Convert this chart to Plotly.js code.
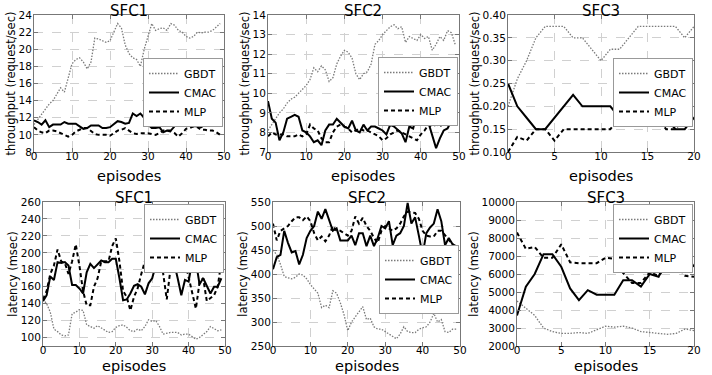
<!DOCTYPE html>
<html><head><meta charset="utf-8">
<script src="https://cdn.plot.ly/plotly-3.0.1.min.js"></script>
<style>html,body{margin:0;padding:0;background:#fff}#c{width:712px;height:375px}</style>
</head><body><div id="c"></div>
<script>
const ep50 = Array.from({length:50},(_,i)=>i);
const ep21 = Array.from({length:21},(_,i)=>i);
const seriesNames = ['GBDT','CMAC','MLP'];
const panelTitles = ['SFC1','SFC2','SFC3','SFC1','SFC2','SFC3'];
const xTitle = 'episodes';

// throughput SFC1
const thr1_gbdt = [11.2,11.8,12.5,13,13.6,14,14.8,15.5,15,16.5,18.3,18.8,19,18.5,17.7,18.5,21.3,21.2,21,20.8,21,22,23,22.5,20.5,19.5,19,18.8,18,20,21.5,23,22.2,22.4,22.5,22.2,23,22.8,22.2,22,21.5,21.3,21.5,22,21.9,22,22,22.2,22.6,23];
const thr1_cmac = [11.7,11.5,11.2,11.7,10.9,11.2,11.2,11.2,11.5,11.3,11.3,11.3,11,10.7,10.8,11.1,11.1,11.1,10.8,10.8,10.9,11.2,11.6,11.5,11.3,11.4,12.5,12.2,12.5,12,11.2,10.8,10.8,10.9,10.3,10.5,10.5,11,12,11.6,11.6,11.4,11,11,10.9,11.2,11.5,11.7,11.6,11.6];
const thr1_mlp = [10.9,10.5,10.3,10.2,10.5,10.5,10.4,10.2,10,9.8,10,10.4,10.6,10.8,10.8,10.5,10.1,10,10,10,9.9,10.2,10.5,10.6,10.8,10.5,10.2,10.1,10.2,10.2,10.2,10.1,10,10.2,10.5,10.5,10.4,10.2,9.8,10.2,10.7,10.8,11,10.9,10.6,10.6,10.5,10.5,10.3,10];
// throughput SFC2
const thr2_gbdt = [8.1,8.4,8.7,9,9.2,9.5,9.7,9.8,10,10.2,10.4,10.7,11.3,11.1,11.4,11.2,10.6,10.8,11.5,11.9,12.2,12.1,11.8,11,10.7,11,11.1,11.5,12.5,12.7,13,13.2,13.4,13.5,13.3,13.4,12.6,12.9,12.8,12.7,13,12.8,12.9,12.2,12.5,12.9,12.7,13.2,13.1,12.5];
const thr2_cmac = [9.6,8.7,8.5,7.6,8,8.7,8.8,8.9,8.8,8.1,8,7.8,7.5,7.6,7.35,8.1,8.4,8.4,8.7,8.5,8.3,8.2,8.6,8.1,8,8.4,8.1,8.3,8.3,8.2,8.1,7.9,8.4,8.3,8.1,7.95,7.5,8.3,8.2,9,9.5,8.5,8.5,7.9,7.2,7.7,8.1,8.2,8.6,8.7];
const thr2_mlp = [7.8,8,7.9,7.9,7.9,7.8,7.8,7.8,7.9,7.8,7.9,8.4,8.2,8.1,7.7,7.5,7.5,8,8.3,8.4,8.3,8.2,8,8.1,8.2,8.1,8.1,8,7.9,7.8,7.6,7.7,7.9,8,8.1,8,7.9,7.8,7.7,7.6,7.9,8.1,8.4,8.3,8.4,8.3,8.5,8.7,8.7,8.7];
// throughput SFC3
const thr3_gbdt = [0.2,0.26,0.3,0.35,0.375,0.375,0.375,0.35,0.35,0.325,0.3,0.325,0.325,0.35,0.375,0.375,0.375,0.375,0.375,0.35,0.375];
const thr3_cmac = [0.25,0.2,0.175,0.15,0.15,0.175,0.2,0.225,0.2,0.2,0.2,0.2,0.175,0.175,0.225,0.2,0.2,0.175,0.15,0.15,0.175];
const thr3_mlp = [0.1,0.133,0.125,0.15,0.15,0.125,0.15,0.15,0.15,0.15,0.15,0.15,0.175,0.2,0.2,0.175,0.175,0.15,0.15,0.175,0.175];
// latency SFC1
const lat1_gbdt = [145,140,130,110,107,103,102,103,128,130,133,132,115,113,111,114,111,108,106,107,112,114,115,112,108,107,110,108,113,121,119,120,113,104,105,106,106,106,103,104,104,101,98,100,104,107,113,110,108,109];
const lat1_cmac = [143,150,172,168,189,188,189,185,162,162,158,152,177,187,182,187,191,189,189,193,193,170,144,145,152,161,163,160,151,164,170,186,186,187,208,207,190,170,150,168,166,190,190,163,170,160,152,160,160,170];
const lat1_mlp = [145,155,175,185,204,190,188,175,190,210,185,155,138,138,160,170,190,190,190,208,217,190,155,148,132,148,158,175,190,193,200,193,192,176,145,180,190,192,226,190,170,150,134,165,170,143,147,150,160,190];
// latency SFC2
const lat2_gbdt = [450,440,420,395,392,390,393,400,398,390,378,370,360,330,335,330,365,360,340,315,282,300,310,320,332,305,308,290,285,285,280,275,270,265,275,290,280,278,278,285,288,290,300,318,300,305,280,278,285,285];
const lat2_cmac = [410,435,440,490,465,445,448,420,440,475,490,500,530,515,535,510,490,495,470,470,470,480,460,485,485,458,480,458,475,500,495,510,460,480,485,500,548,505,518,480,440,485,497,505,535,510,460,475,462,435];
const lat2_mlp = [505,470,490,495,500,510,518,518,512,520,510,485,470,478,468,480,500,490,490,485,480,490,520,505,517,500,490,475,465,490,500,495,490,495,505,520,530,528,527,515,490,480,478,478,490,490,480,470,462,458];
// latency SFC3
const lat3_gbdt = [4500,4100,3700,3000,2800,2700,2700,2750,2700,2900,3100,3050,3100,3000,2800,2750,2700,2650,2700,2950,2850];
const lat3_cmac = [3700,5300,6000,7100,7100,6400,5200,4550,5100,4850,4850,4850,5650,5650,5300,6000,5850,6900,7100,7100,6400];
const lat3_mlp = [8300,7400,7500,6900,6900,7650,6650,6600,6600,6600,6900,6850,6050,5500,5500,6100,5900,6500,6500,5900,5850];

const panels = [
  {x:ep50, ys:[thr1_gbdt,thr1_cmac,thr1_mlp]},
  {x:ep50, ys:[thr2_gbdt,thr2_cmac,thr2_mlp]},
  {x:ep21, ys:[thr3_gbdt,thr3_cmac,thr3_mlp]},
  {x:ep50, ys:[lat1_gbdt,lat1_cmac,lat1_mlp]},
  {x:ep50, ys:[lat2_gbdt,lat2_cmac,lat2_mlp]},
  {x:ep21, ys:[lat3_gbdt,lat3_cmac,lat3_mlp]}
];
const styles = [
  {color:'#7a7a7a', width:1.3, dash:'1.5px,1.5px'},
  {color:'#000', width:2, dash:'solid'},
  {color:'#000', width:2, dash:'4px,3px'}
];
const W=712,H=375;
const boxes = [ // [left,right,top,bottom] px
  [34,224,15,152],[268,459,15,152],[508,694,15,152],
  [43,225,202,346],[273,460,202,346],[517,694,202,346]
];
const yRanges = [[8,24],[7,14],[0.1,0.4],[90,260],[250,550],[2000,10000]];
const yDticks = [2,1,0.05,20,50,1000];
const xRanges = [[0,50],[0,50],[0,20],[0,50],[0,50],[0,20]];
const xDticks = [10,10,5,10,10,5];
const yTitles = ['throughput (request/sec)','throughput (request/sec)','throughput (request/sec)','latency (msec)','latency (msec)','latency (msec)'];
const legendPos = [[223,58],[458,57],[693,58],[224,204],[459,245],[693,204]];

const font = 'DejaVu Sans, sans-serif';
const traces=[]; const layout={width:W,height:H,margin:{l:0,r:0,t:0,b:0},paper_bgcolor:'#fff',plot_bgcolor:'#fff',showlegend:true,annotations:[],font:{family:font,color:'#000'}};
panels.forEach((p,i)=>{
  const n=i+1, xa='x'+(n===1?'':n), ya='y'+(n===1?'':n);
  const lg='legend'+(n===1?'':n);
  p.ys.forEach((y,k)=>{
    traces.push({type:'scatter',mode:'lines',x:p.x,y:y,name:seriesNames[k],xaxis:xa,yaxis:ya,legend:lg,line:styles[k]});
  });
  const b=boxes[i];
  const ax={showline:true,mirror:'ticks',linecolor:'#777',linewidth:1,ticks:'inside',ticklen:4,tickcolor:'#777',
    showgrid:true,gridcolor:'#d0d0d0',griddash:'dash',gridwidth:1,zeroline:false,tickfont:{size:10.5,family:font,color:'#000'}};
  layout['xaxis'+(n===1?'':n)]=Object.assign({},ax,{domain:[b[0]/W,b[1]/W],range:xRanges[i],dtick:xDticks[i],tick0:0,anchor:ya,
    ticklabelstandoff:-6});
  layout['yaxis'+(n===1?'':n)]=Object.assign({},ax,{domain:[1-b[3]/H,1-b[2]/H],range:yRanges[i],dtick:yDticks[i],anchor:xa,
    tickformat:i===2?'.2f':'d',ticklabelstandoff:-1,title:{text:yTitles[i],font:{size:11.5,family:font},standoff:0}});
  layout[lg]={x:legendPos[i][0]/W,y:1-legendPos[i][1]/H,xanchor:'right',yanchor:'top',bgcolor:'#fff',bordercolor:'#999',borderwidth:1,
    font:{size:11,family:font},tracegroupgap:0,itemwidth:30};
  layout.annotations.push({text:panelTitles[i],xref:'paper',yref:'paper',x:(b[0]+b[1])/2/W,y:1-b[2]/H,yanchor:'bottom',xanchor:'center',showarrow:false,font:{size:15,family:font},yshift:-7});
  const top = i<3;
  layout.annotations.push({text:xTitle,xref:'paper',yref:'paper',x:(b[0]+b[1])/2/W,y:top?1-176/H:0,yanchor:top?'middle':'bottom',xanchor:'center',showarrow:false,font:{size:14.5,family:font},borderpad:0});
});
Plotly.newPlot('c',traces,layout,{staticPlot:true});
</script></body></html>
